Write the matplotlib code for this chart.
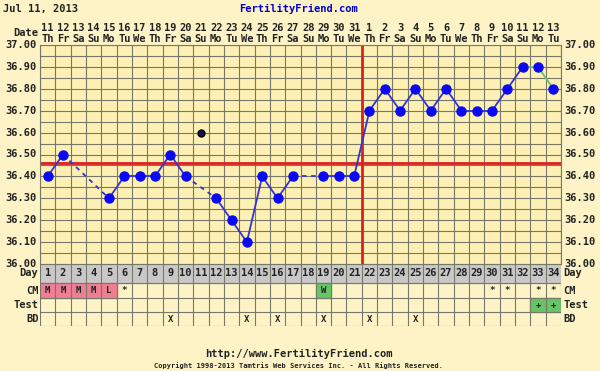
import numpy as np
import matplotlib
matplotlib.use("Agg")
from matplotlib import pyplot as plt
from matplotlib.patches import Rectangle

# chart data
chart_date = "Jul 11, 2013"
dates = [11, 12, 13, 14, 15, 16, 17, 18, 19, 20, 21, 22, 23, 24, 25, 26, 27,
         28, 29, 30, 31, 1, 2, 3, 4, 5, 6, 7, 8, 9, 10, 11, 12, 13]
weekdays = ["Th", "Fr", "Sa", "Su", "Mo", "Tu", "We", "Th", "Fr", "Sa", "Su",
            "Mo", "Tu", "We", "Th", "Fr", "Sa", "Su", "Mo", "Tu", "We", "Th",
            "Fr", "Sa", "Su", "Mo", "Tu", "We", "Th", "Fr", "Sa", "Su", "Mo", "Tu"]
days = list(range(1, 35))
temps = [36.40, 36.50, None, None, 36.30, 36.40, 36.40, 36.40, 36.50, 36.40,
         None, 36.30, 36.20, 36.10, 36.40, 36.30, 36.40, None, 36.40, 36.40,
         36.40, 36.70, 36.80, 36.70, 36.80, 36.70, 36.80, 36.70, 36.70, 36.70,
         36.80, 36.90, 36.90, 36.80]
discarded_days = [11]
discarded_temps = [36.60]
green_days = [32, 33, 34]
coverline = 36.46
ovulation_day = 21

cm_days = [1, 2, 3, 4, 5, 6, 19, 30, 31, 33, 34]
cm_marks = ["M", "M", "M", "M", "L", "*", "W", "*", "*", "*", "*"]
test_days = [33, 34]
test_marks = ["+", "+"]
bd_days = [9, 14, 16, 19, 22, 25]

# colours
page_bg = "#fdf3c6"
plot_bg = "#fdf0b4"
grid_col = "#77776a"
text_col = "#222222"
blue_line = "#3434d0"
blue_dot = "#0a0af0"
red = "#dd2020"
pink = "#ee7f93"
green = "#66c466"
gray = "#c8c8c8"

mono = {"family": "DejaVu Sans Mono", "weight": "bold"}

fig = plt.figure(figsize=(6, 3.71), dpi=100, facecolor=page_bg)
W, H = 600.0, 371.0
x0, x1 = 40, 561
ax = fig.add_axes([x0 / W, 1 - 264 / H, (x1 - x0) / W, 219 / H])
tab = fig.add_axes([x0 / W, 1 - 326 / H, (x1 - x0) / W, 62 / H])

# temperature grid
ax.set_facecolor(plot_bg)
ax.set_xlim(0.5, 34.5)
ax.set_ylim(36.0, 37.0)
for xb in np.arange(0.5, 35.0, 1.0):
    ax.axvline(xb, color=grid_col, lw=0.8, zorder=1)
for yb in np.arange(36.0, 37.001, 0.05):
    ax.axhline(yb, color=grid_col, lw=0.8, zorder=1)
ax.set_xticks([])
ax.set_yticks([])
for s in ax.spines.values():
    s.set_color(grid_col)
    s.set_linewidth(0.8)

# temperature lines
rec = [(d, t) for d, t in zip(days, temps) if t is not None]
for (da, ta), (db, tb) in zip(rec[:-1], rec[1:]):
    col = green if (da in green_days and db in green_days) else blue_line
    ls = "-" if db - da == 1 else (0, (2.5, 2.5))
    ax.plot([da, db], [ta, tb], color=col, lw=1.3, ls=ls, zorder=3)
ax.plot([d for d, _ in rec], [t for _, t in rec], "o", color=blue_dot,
        ms=6.5, mec=blue_dot, zorder=4)
ax.plot(discarded_days, discarded_temps, "o", color="#101060", ms=5,
        mec="#000000", zorder=4)

ax.axhline(coverline, color=red, lw=2, zorder=2)
ax.axvline(ovulation_day + 0.5, color=red, lw=2, zorder=2)

# y labels on both sides
for v in np.arange(36.0, 37.001, 0.1):
    ax.text(0.5 - 0.2, v, f"{v:.2f}", ha="right", va="center", fontsize=7.5,
            color=text_col, **mono)
    ax.text(34.5 + 0.2, v, f"{v:.2f}", ha="left", va="center", fontsize=7.5,
            color=text_col, **mono)

# dates on top
for d, dt, wd in zip(days, dates, weekdays):
    ax.text(d, 37.0 + 0.077, str(dt), ha="center", va="center", fontsize=7.5,
            color=text_col, **mono)
    ax.text(d, 37.0 + 0.027, wd, ha="center", va="center", fontsize=7.5,
            color=text_col, **mono)
ax.text(0.5 - 0.1, 37.053, "Date", ha="right", va="center", fontsize=7.5,
        color=text_col, **mono)

# bottom table
rows = [("Day", 0, 19), ("CM", 19, 34), ("Test", 34, 48), ("BD", 48, 62)]
tab.set_xlim(0.5, 34.5)
tab.set_ylim(62, 0)
tab.set_facecolor(plot_bg)
tab.axis("off")
tab.add_patch(Rectangle((0.5, 0), 34, 19, color=gray, zorder=0))
for d, m in zip(cm_days, cm_marks):
    if m in ("M", "L"):
        tab.add_patch(Rectangle((d - 0.5, 19), 1, 15, color=pink, zorder=0))
    elif m == "W":
        tab.add_patch(Rectangle((d - 0.5, 19), 1, 15, color=green, zorder=0))
    tab.text(d, 26.5, m, ha="center", va="center", fontsize=6.5,
             color=text_col, **mono)
for d, m in zip(test_days, test_marks):
    tab.add_patch(Rectangle((d - 0.5, 34), 1, 14, color=green, zorder=0))
    tab.text(d, 41, m, ha="center", va="center", fontsize=6.5,
             color=text_col, **mono)
for d in bd_days:
    tab.text(d, 55, "X", ha="center", va="center", fontsize=6.5,
             color=text_col, **mono)
for d in days:
    tab.text(d, 9.5, str(d), ha="center", va="center", fontsize=7.5,
             color=text_col, **mono)
for xb in np.arange(0.5, 35.0, 1.0):
    tab.plot([xb, xb], [0, 62], color=grid_col, lw=0.8, zorder=1)
for yb in [0, 19, 34, 48, 62]:
    tab.plot([0.5, 34.5], [yb, yb], color=grid_col, lw=0.8, zorder=1)
for name, ya, yb in rows:
    yc = (ya + yb) / 2
    tab.text(0.5 - 0.1, yc, name, ha="right", va="center", fontsize=7.5,
             color=text_col, **mono)
    tab.text(34.5 + 0.15, yc, name, ha="left", va="center", fontsize=7.5,
             color=text_col, **mono)

# header and footer
fig.text(3 / W, 1 - 9 / H, chart_date, ha="left", va="center", fontsize=7.5,
         color=text_col, **mono)
fig.text(299 / W, 1 - 9 / H, "FertilityFriend.com", ha="center", va="center",
         fontsize=7.5, color="#0000cc", **mono)
fig.text(299 / W, 1 - 354 / H, "http://www.FertilityFriend.com", ha="center",
         va="center", fontsize=7.5, color=text_col, **mono)
fig.text(299 / W, 1 - 366 / H,
         "Copyright 1998-2013 Tamtris Web Services Inc. - All Rights Reserved.",
         ha="center", va="center", fontsize=5, color=text_col, **mono)

fig.savefig("out.png", dpi=100, facecolor=page_bg)
